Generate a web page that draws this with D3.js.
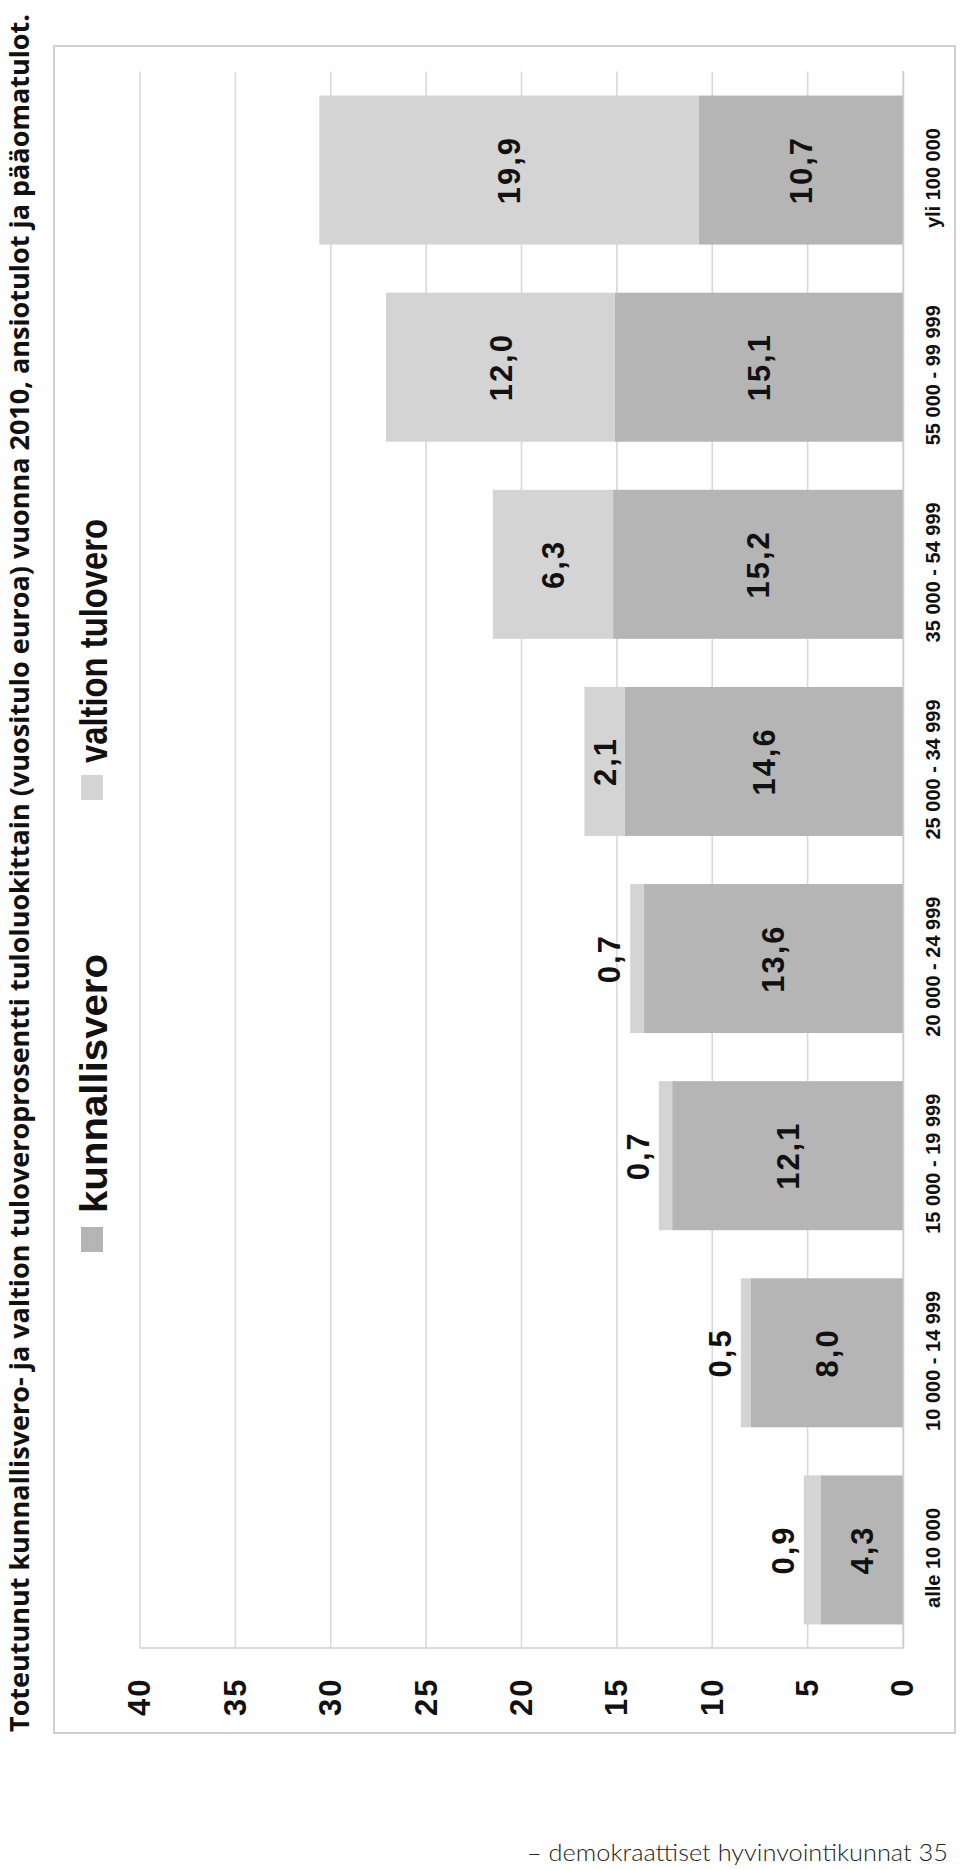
<!DOCTYPE html>
<html>
<head>
<meta charset="utf-8">
<script src="https://cdn.jsdelivr.net/npm/d3@7"></script>
<style>
  html, body { margin: 0; padding: 0; background: #fff; }
  svg { display: block; }
</style>
</head>
<body>
<script>
// ---- data ----
const categories = ["alle 10 000", "10 000 - 14 999", "15 000 - 19 999", "20 000 - 24 999",
                    "25 000 - 34 999", "35 000 - 54 999", "55 000 - 99 999", "yli 100 000"];
const kunnallisvero = [4.3, 8.0, 12.1, 13.6, 14.6, 15.2, 15.1, 10.7];
const valtionTulovero = [0.9, 0.5, 0.7, 0.7, 2.1, 6.3, 12.0, 19.9];
const seriesKeys = ["kunnallisvero", "valtion tulovero"];
const yTicks = [0, 5, 10, 15, 20, 25, 30, 35, 40];
const titleText = "Toteutunut kunnallisvero- ja valtion tuloveroprosentti tuloluokittain (vuositulo euroa) vuonna 2010, ansiotulot ja pääomatulot.";
const footerText = "– demokraattiset hyvinvointikunnat  35";

// ---- styles ----
const colors = ["#b5b5b5", "#d4d4d4"];
const W = 960, H = 1869;

const svg = d3.select("body").append("svg").attr("width", W).attr("height", H);
svg.append("rect").attr("width", W).attr("height", H).attr("fill", "#fff");

// frame
svg.append("rect").attr("x", 54).attr("y", 46).attr("width", 901).attr("height", 1687)
  .attr("fill", "none").attr("stroke", "#d0d0d0").attr("stroke-width", 2);

// rotated chart group (column chart turned 90° counter-clockwise)
const Y0 = 1648.5, plotLen = 1577;
const g = svg.append("g").attr("transform", `translate(0,${Y0}) rotate(-90)`);

const x = d3.scaleBand().domain(categories).range([0, plotLen]).paddingInner(0.244).paddingOuter(0.122);
const y = d3.scaleLinear().domain([0, 40]).range([903, 140]);

// gridlines
g.append("g").selectAll("line").data(yTicks).join("line")
  .attr("x1", 0).attr("x2", plotLen)
  .attr("y1", d => y(d)).attr("y2", d => y(d))
  .attr("stroke", "#d9d9d9").attr("stroke-width", 1.6);

// stacked bars
const rows = categories.map((c, i) => ({ cat: c, [seriesKeys[0]]: kunnallisvero[i], [seriesKeys[1]]: valtionTulovero[i] }));
const stacked = d3.stack().keys(seriesKeys)(rows);

g.append("g").selectAll("g").data(stacked).join("g")
  .attr("fill", (d, i) => colors[i])
  .selectAll("rect").data(d => d).join("rect")
  .attr("x", d => x(d.data.cat))
  .attr("width", x.bandwidth())
  .attr("y", d => y(d[1]))
  .attr("height", d => y(d[0]) - y(d[1]));

// value axis (appears at bottom after rotation)
const yAxis = g.append("g").call(d3.axisLeft(y).tickValues(yTicks).tickSize(0).tickPadding(29));
yAxis.select(".domain").attr("stroke", "#cfcfcf").attr("stroke-width", 1.6);
yAxis.selectAll("text")
  .attr("font-family", "'Liberation Sans', Arial, sans-serif")
  .attr("font-weight", "bold").attr("font-size", 31).attr("letter-spacing", 2)
  .attr("fill", "#111");

// category axis
const xAxis = g.append("g").attr("transform", `translate(0,${y(0)})`)
  .call(d3.axisBottom(x).tickSize(0).tickPadding(23));
xAxis.select(".domain").attr("stroke", "#cfcfcf").attr("stroke-width", 1.6);
xAxis.selectAll("text")
  .attr("font-family", "'Liberation Sans', Arial, sans-serif")
  .attr("font-weight", "bold").attr("font-size", 20)
  .attr("dx", -8).attr("fill", "#111");

// data labels
const fmt = v => d3.format(".1f")(v).replace(".", ",");
const labels = [];
stacked.forEach(layer => layer.forEach(d => labels.push({ cat: d.data.cat, lo: d[0], hi: d[1], v: d[1] - d[0] })));
g.append("g").selectAll("text").data(labels).join("text")
  .attr("x", d => x(d.cat) + x.bandwidth() / 2)
  .attr("y", d => d.v >= 1 ? (y(d.lo) + y(d.hi)) / 2 : y(d.hi) - 10)
  .attr("dy", d => d.v >= 1 ? "0.36em" : 0)
  .attr("text-anchor", "middle")
  .attr("font-family", "'Liberation Sans', Arial, sans-serif")
  .attr("font-weight", "bold").attr("font-size", 31).attr("letter-spacing", 2)
  .attr("fill", "#111")
  .text(d => fmt(Math.round(d.v * 10) / 10));

// legend (in rotated coordinates)
const leg = g.append("g");
const legFamily = "'Liberation Sans Narrow', 'Arial Narrow', 'Liberation Sans', Arial, sans-serif";
// kunnallisvero
leg.append("text").attr("x", Y0 - 1213).attr("y", 107)
  .attr("font-family", legFamily).attr("font-weight", "bold").attr("font-size", 39)
  .attr("textLength", 259).attr("lengthAdjust", "spacingAndGlyphs")
  .attr("fill", "#111").text(seriesKeys[0]);
leg.append("rect").attr("x", Y0 - 1252).attr("y", 81).attr("width", 25).attr("height", 22).attr("fill", colors[0]);
// valtion tulovero
leg.append("text").attr("x", Y0 - 763).attr("y", 107)
  .attr("font-family", legFamily).attr("font-weight", "bold").attr("font-size", 39)
  .attr("textLength", 244).attr("lengthAdjust", "spacingAndGlyphs")
  .attr("fill", "#111").text(seriesKeys[1]);
leg.append("rect").attr("x", Y0 - 800).attr("y", 81).attr("width", 25).attr("height", 22).attr("fill", colors[1]);

// title (vertical along left edge)
svg.append("text").attr("transform", "translate(29,1732) rotate(-90)")
  .attr("font-family", "'Open Sans', 'Noto Sans', sans-serif").attr("font-weight", "bold").attr("font-size", 27)
  .attr("fill", "#111")
  .attr("textLength", 1718).attr("lengthAdjust", "spacingAndGlyphs")
  .text(titleText);

// footer
svg.append("text").attr("x", 948).attr("y", 1861).attr("text-anchor", "end")
  .attr("font-family", "Lato, 'Open Sans', sans-serif").attr("font-weight", 300).attr("font-size", 24)
  .attr("fill", "#222")
  .attr("textLength", 421).attr("lengthAdjust", "spacingAndGlyphs")
  .text(footerText);
</script>
</body>
</html>
